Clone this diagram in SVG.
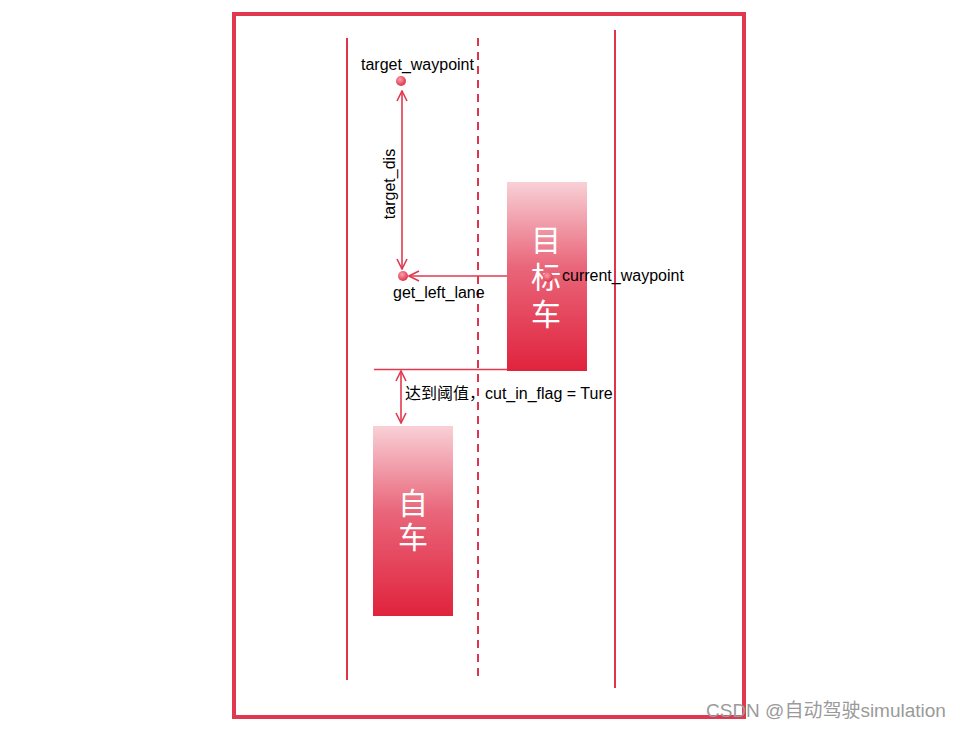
<svg xmlns="http://www.w3.org/2000/svg" width="962" height="729" viewBox="0 0 962 729">
<defs>
<linearGradient id="car" x1="0" y1="0" x2="0" y2="1">
<stop offset="0" stop-color="#f8d0d6"/>
<stop offset="0.45" stop-color="#e9667a"/>
<stop offset="1" stop-color="#e0233d"/>
</linearGradient>
<radialGradient id="dot" cx="0.4" cy="0.35" r="0.7">
<stop offset="0" stop-color="#f8a0ac"/>
<stop offset="1" stop-color="#dc2a42"/>
</radialGradient>
<marker id="ah" viewBox="0 0 12 12" refX="11" refY="6" markerWidth="12" markerHeight="12" markerUnits="userSpaceOnUse" orient="auto-start-reverse">
<path d="M1,1 L11,6 L1,11" fill="none" stroke="#e03a50" stroke-width="1.6"/>
</marker>
</defs>
<style>
.lane{stroke:#e0344c;stroke-width:2;fill:none}
.conn{stroke:#e03a50;stroke-width:1.6;fill:none}
.lbl{font-family:"Liberation Sans","Noto Sans CJK SC",sans-serif;font-size:16px;fill:#000}
.car{font-family:"Noto Sans CJK SC",sans-serif;font-size:30px;fill:#fff;writing-mode:vertical-rl}
</style>
<rect x="234" y="14" width="510" height="703" fill="none" stroke="#e0394f" stroke-width="4"/>
<g id="lanes">
<line class="lane" x1="347" y1="38" x2="347" y2="680"/>
<line class="lane" x1="478" y1="38" x2="478" y2="677" stroke-dasharray="8,6"/>
<line class="lane" x1="615" y1="30" x2="615" y2="688"/>
</g>
<g id="target_car">
<rect x="507" y="182" width="80" height="189" fill="url(#car)"/>
<text class="car" x="546" y="225" letter-spacing="7">目标车</text>
</g>
<g id="ego_car">
<rect x="373" y="426" width="80" height="190" fill="url(#car)"/>
<text class="car" x="413" y="488" letter-spacing="4">自车</text>
</g>
<g id="connectors">
<line class="conn" x1="402" y1="91" x2="402" y2="269" marker-start="url(#ah)" marker-end="url(#ah)"/>
<line class="conn" x1="507" y1="276" x2="409" y2="276" marker-end="url(#ah)"/>
<line class="conn" x1="374" y1="369.5" x2="507" y2="369.5"/>
<line class="conn" x1="401" y1="371" x2="401" y2="423" marker-start="url(#ah)" marker-end="url(#ah)"/>
</g>
<g id="target_waypoint">
<circle cx="401" cy="81" r="5" fill="url(#dot)"/>
<text class="lbl" x="361" y="70">target_waypoint</text>
</g>
<g id="get_left_lane">
<circle cx="403" cy="276" r="5" fill="url(#dot)"/>
<text class="lbl" x="393" y="298">get_left_lane</text>
</g>
<g id="current_waypoint">
<circle cx="548" cy="277" r="5" fill="url(#dot)"/>
<text class="lbl" x="562" y="281">current_waypoint</text>
</g>
<g id="labels">
<text class="lbl" transform="translate(395,184) rotate(-90)" text-anchor="middle">target_dis</text>
<text class="lbl" x="405" y="399">达到阈值，cut_in_flag = Ture</text>
</g>
<text x="706" y="717" font-family="'Liberation Sans','Noto Sans CJK SC',sans-serif" font-size="19" fill="#9a9a9a">CSDN @自动驾驶simulation</text>
</svg>
